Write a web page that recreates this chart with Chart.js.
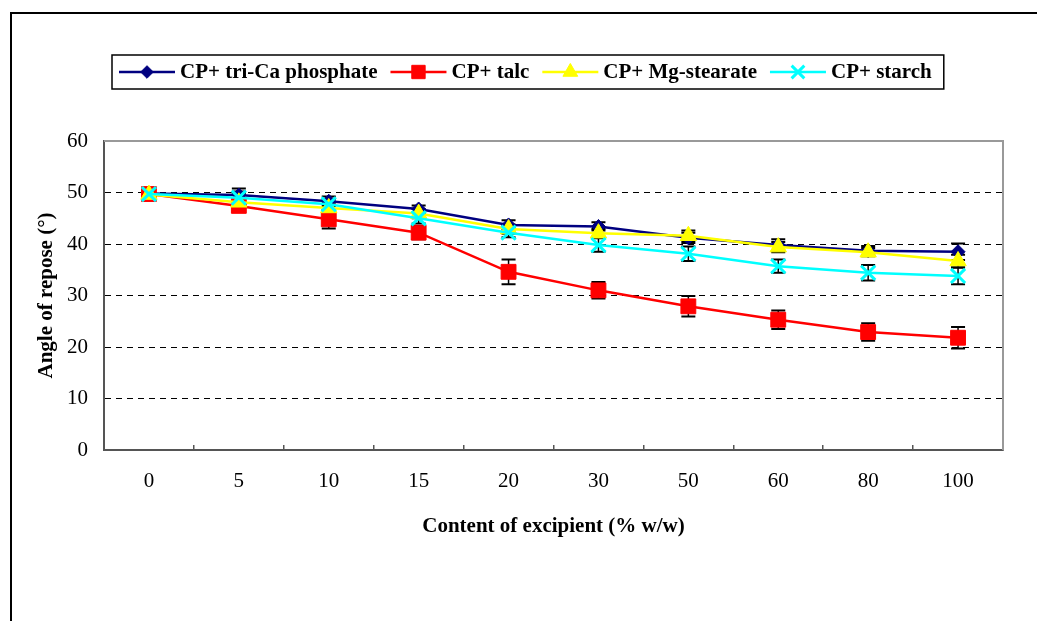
<!DOCTYPE html>
<html>
<head>
<meta charset="utf-8">
<script src="https://cdn.jsdelivr.net/npm/chart.js@4.4.1/dist/chart.umd.min.js"></script>
<style>
  html, body { margin: 0; padding: 0; background: #fff; overflow: hidden; }
  #wrap { position: relative; width: 1037px; height: 621px; }
  #frame { position: absolute; left: 10px; top: 12px; width: 1100px; height: 700px; border: 2px solid #000; box-sizing: border-box; }
  canvas { position: absolute; left: 0; top: 0; }
</style>
</head>
<body>
<div id="wrap">
  <div id="frame"></div>
  <canvas id="chart" width="1037" height="621"></canvas>
</div>
<script>
const EXCIPIENT_CONTENT = ['0', '5', '10', '15', '20', '30', '50', '60', '80', '100'];
const SERIES_NAMES = ['CP+ tri-Ca phosphate', 'CP+ talc', 'CP+ Mg-stearate', 'CP+ starch'];

const TRI_CA = [49.8, 49.5, 48.3, 46.8, 43.7, 43.4, 41.2, 39.8, 38.7, 38.5];
const TALC = [49.7, 47.4, 44.8, 42.2, 34.6, 31.0, 27.9, 25.3, 22.9, 21.8];
const MG_STEARATE = [49.6, 48.1, 47.0, 45.9, 42.9, 42.1, 41.6, 39.4, 38.4, 36.7];
const STARCH = [49.7, 49.0, 47.7, 45.0, 42.2, 39.8, 38.1, 35.7, 34.4, 33.8];

// standard deviations shown as error bars
const TRI_CA_SD = [0.6, 1.3, 0.9, 0.7, 0.9, 0.8, 1.0, 1.1, 0.9, 1.6];
const TALC_SD = [0.8, 1.2, 1.8, 1.3, 2.4, 1.6, 2.0, 1.8, 1.7, 2.1];
const MG_STEARATE_SD = [0.6, 1.8, 1.0, 0.9, 0.9, 0.8, 1.0, 1.0, 0.8, 1.2];
const STARCH_SD = [0.6, 1.2, 1.0, 1.0, 0.9, 1.3, 1.4, 1.3, 1.5, 1.6];

const Y_TICKS = [0, 10, 20, 30, 40, 50, 60];

const SERIF = '"Liberation Serif", "Times New Roman", serif';

function series(label, data, sd, color, style, radius, borderWidth, order) {
    return {
        label: label,
        data: data,
        errors: sd,
        borderColor: color,
        backgroundColor: color,
        borderWidth: 2.5,
        tension: 0,
        pointStyle: style,
        pointRadius: radius,
        pointHoverRadius: radius,
        pointBackgroundColor: color,
        pointBorderColor: color,
        pointBorderWidth: borderWidth,
        order: order
    };
}

const datasets = [
    series(SERIES_NAMES[0], TRI_CA, TRI_CA_SD, '#000080', 'rectRot', 7, 1, 3),
    series(SERIES_NAMES[1], TALC, TALC_SD, '#ff0000', 'rect', 10.5, 1, 2),
    series(SERIES_NAMES[2], MG_STEARATE, MG_STEARATE_SD, '#ffff00', 'triangle', 9.5, 1, 1),
    series(SERIES_NAMES[3], STARCH, STARCH_SD, '#00ffff', 'crossRot', 10, 3, 0)
];

// black error bars with caps, under the lines and markers
const errorBars = {
    id: 'errorBars',
    beforeDatasetsDraw(chart) {
        const {ctx, scales: {x, y}} = chart;
        ctx.save();
        ctx.strokeStyle = '#000';
        chart.data.datasets.forEach(ds => {
            ds.data.forEach((v, i) => {
                const px = x.getPixelForValue(i);
                const top = y.getPixelForValue(v + ds.errors[i]);
                const bot = y.getPixelForValue(v - ds.errors[i]);
                ctx.lineWidth = 1.5;
                ctx.beginPath();
                ctx.moveTo(px, top);
                ctx.lineTo(px, bot);
                ctx.stroke();
                ctx.lineWidth = 2;
                ctx.beginPath();
                ctx.moveTo(px - 7, top);
                ctx.lineTo(px + 7, top);
                ctx.moveTo(px - 7, bot);
                ctx.lineTo(px + 7, bot);
                ctx.stroke();
            });
        });
        ctx.restore();
    }
};

// grey top and right edges of the plot area
const plotEdges = {
    id: 'plotEdges',
    beforeDatasetsDraw(chart) {
        const {ctx, chartArea: a} = chart;
        ctx.save();
        ctx.strokeStyle = '#999';
        ctx.lineWidth = 2;
        ctx.beginPath();
        ctx.moveTo(a.left, a.top);
        ctx.lineTo(a.right, a.top);
        ctx.lineTo(a.right, a.bottom);
        ctx.stroke();
        ctx.restore();
    }
};

// boxed horizontal legend with line + marker samples
const boxLegend = {
    id: 'boxLegend',
    afterDraw(chart) {
        const {ctx} = chart;
        const boxLeft = 112, boxTop = 55, boxH = 34;
        const cy = boxTop + boxH / 2;
        ctx.save();
        ctx.font = 'bold 21px ' + SERIF;
        ctx.textBaseline = 'middle';
        let x = boxLeft + 7;
        const items = [];
        chart.data.datasets.forEach(ds => {
            items.push({ds: ds, x: x});
            x += 56 + 5 + ctx.measureText(ds.label).width + 13;
        });
        const boxRight = x - 13 + 12;
        ctx.fillStyle = '#fff';
        ctx.fillRect(boxLeft, boxTop, boxRight - boxLeft, boxH);
        ctx.strokeStyle = '#000';
        ctx.lineWidth = 1.5;
        ctx.strokeRect(boxLeft, boxTop, boxRight - boxLeft, boxH);
        items.forEach(({ds, x}) => {
            ctx.strokeStyle = ds.borderColor;
            ctx.lineWidth = 2.5;
            ctx.beginPath();
            ctx.moveTo(x, cy);
            ctx.lineTo(x + 56, cy);
            ctx.stroke();
            ctx.fillStyle = ds.pointBackgroundColor;
            ctx.strokeStyle = ds.pointBorderColor;
            ctx.lineWidth = ds.pointBorderWidth;
            Chart.helpers.drawPoint(ctx, {
                pointStyle: ds.pointStyle,
                radius: ds.pointRadius * 0.9,
                rotation: 0,
                borderWidth: ds.pointBorderWidth
            }, x + 28, cy);
            ctx.fillStyle = '#000';
            ctx.fillText(ds.label, x + 61, cy + 1);
        });
        ctx.restore();
    }
};

new Chart(document.getElementById('chart'), {
    type: 'line',
    data: {labels: EXCIPIENT_CONTENT, datasets: datasets},
    plugins: [plotEdges, errorBars, boxLegend],
    options: {
        responsive: false,
        animation: false,
        events: [],
        layout: {padding: {top: 141, right: 34, bottom: 76, left: 0}},
        plugins: {legend: {display: false}, tooltip: {enabled: false}},
        scales: {
            x: {
                offset: true,
                afterFit: s => { s.height = 95; },
                grid: {
                    offset: true,
                    drawOnChartArea: false,
                    drawTicks: true,
                    tickLength: -5,
                    color: '#555',
                    lineWidth: 1.5
                },
                border: {color: '#555', width: 2},
                ticks: {color: '#000', font: {family: SERIF, size: 21}, padding: 24, maxRotation: 0},
                title: {
                    display: true,
                    text: 'Content of excipient (% w/w)',
                    color: '#000',
                    font: {family: SERIF, size: 21, weight: 'bold'},
                    padding: {top: 0, bottom: 6}
                }
            },
            y: {
                min: 0,
                max: 60,
                afterFit: s => { s.width = 104; },
                afterBuildTicks: s => { s.ticks = Y_TICKS.map(v => ({value: v})); },
                grid: {
                    drawTicks: false,
                    color: c => (c.tick && (c.tick.value === 0 || c.tick.value === 60)) ? 'rgba(0,0,0,0)' : '#000',
                    lineWidth: 1
                },
                border: {color: '#555', width: 2, dash: [6, 5]},
                ticks: {color: '#000', font: {family: SERIF, size: 21}, padding: 16},
                title: {
                    display: true,
                    text: 'Angle of repose (°)',
                    color: '#000',
                    font: {family: SERIF, size: 21, weight: 'bold'},
                    padding: {top: 34, bottom: 0}
                }
            }
        }
    }
});
</script>
</body>
</html>
